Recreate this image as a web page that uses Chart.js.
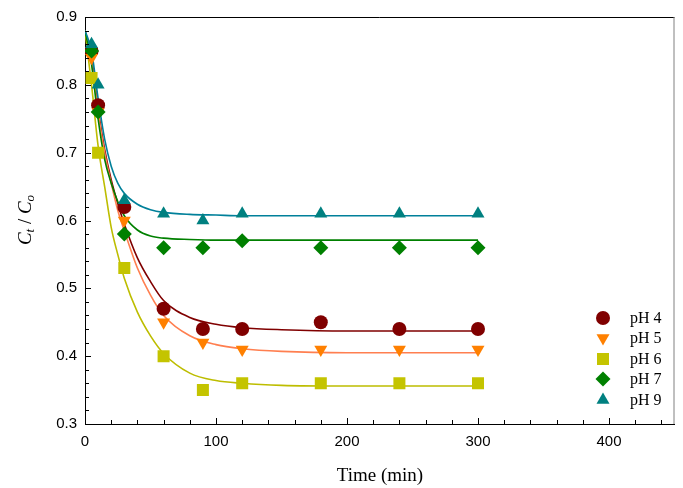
<!DOCTYPE html>
<html>
<head>
<meta charset="utf-8">
<script src="https://cdn.jsdelivr.net/npm/chart.js@4/dist/chart.umd.min.js"></script>
<style>
  html, body { margin: 0; padding: 0; background: #fff; }
  #wrap { width: 683px; height: 488px; }
</style>
</head>
<body>
<div id="wrap"><canvas id="chart" width="683" height="488"></canvas></div>
<script>
// measured points
const sampleTimes = [5, 10, 30, 60, 90, 120, 180, 240, 300];
const ph4 = [0.85, 0.77, 0.62, 0.47, 0.44, 0.44, 0.45, 0.44, 0.44];
const ph5 = [0.84, 0.76, 0.60, 0.45, 0.42, 0.41, 0.41, 0.41, 0.41];
const ph6 = [0.81, 0.70, 0.53, 0.40, 0.35, 0.36, 0.36, 0.36, 0.36];
const ph7 = [0.85, 0.76, 0.58, 0.56, 0.56, 0.57, 0.56, 0.56, 0.56];
const ph9 = [0.86, 0.80, 0.63, 0.61, 0.60, 0.61, 0.61, 0.61, 0.61];

// fitted curves
const fitTimes = [0, 5, 10, 15, 20, 25, 30, 40, 50, 60, 80, 100, 120, 150, 200, 250, 300];
const fit4 = [0.88, 0.84, 0.765, 0.705, 0.66, 0.625, 0.595, 0.545, 0.51, 0.482, 0.457, 0.447, 0.442, 0.439, 0.437, 0.437, 0.437];
const fit5 = [0.88, 0.835, 0.76, 0.70, 0.655, 0.615, 0.585, 0.53, 0.49, 0.46, 0.43, 0.417, 0.411, 0.407, 0.405, 0.405, 0.405];
const fit6 = [0.88, 0.80, 0.71, 0.65, 0.59, 0.55, 0.515, 0.465, 0.43, 0.404, 0.375, 0.364, 0.36, 0.357, 0.356, 0.356, 0.356];
const fit7 = [0.88, 0.83, 0.75, 0.69, 0.655, 0.628, 0.607, 0.586, 0.577, 0.574, 0.572, 0.571, 0.571, 0.571, 0.571, 0.571, 0.571];
const fit9 = [0.88, 0.85, 0.78, 0.72, 0.68, 0.655, 0.64, 0.624, 0.616, 0.612, 0.609, 0.608, 0.607, 0.607, 0.607, 0.607, 0.607];

const seriesNames = ["pH 4", "pH 5", "pH 6", "pH 7", "pH 9"];
const xTicks = [0, 100, 200, 300, 400];
const yTicks = [0.3, 0.4, 0.5, 0.6, 0.7, 0.8, 0.9];

const markerColors = ["#800000", "#ff8000", "#c4c400", "#008000", "#008080"];
const lineColors = ["#800000", "#ff7f50", "#bdbd00", "#008000", "#00809a"];
const markerStyles = [
  { pointStyle: "circle", radius: 7, rotation: 0 },
  { pointStyle: "triangle", radius: 7.5, rotation: 180 },
  { pointStyle: "rect", radius: 8.5, rotation: 0 },
  { pointStyle: "rectRot", radius: 7.5, rotation: 0 },
  { pointStyle: "triangle", radius: 7.5, rotation: 0 }
];

const measured = [ph4, ph5, ph6, ph7, ph9];
const fits = [fit4, fit5, fit6, fit7, fit9];

const toXY = (xs, ys) => xs.map((x, i) => ({ x: x, y: ys[i] }));

const datasets = [];
fits.forEach((f, i) => {
  datasets.push({
    label: seriesNames[i] + " fit",
    data: toXY(fitTimes, f),
    showLine: true,
    borderColor: lineColors[i],
    borderWidth: 1.6,
    pointRadius: 0,
    cubicInterpolationMode: "monotone",
    order: 20 - i
  });
});
measured.forEach((m, i) => {
  datasets.push({
    label: seriesNames[i],
    data: toXY(sampleTimes, m),
    showLine: false,
    backgroundColor: markerColors[i],
    borderColor: markerColors[i],
    borderWidth: 0,
    pointStyle: markerStyles[i].pointStyle,
    pointRadius: markerStyles[i].radius,
    pointRotation: markerStyles[i].rotation,
    order: 10 - i
  });
});

// inward ticks, frame, titles and legend
const decorations = {
  id: "decorations",
  afterDraw(chart) {
    const ctx = chart.ctx;
    const a = chart.chartArea;
    const xs = chart.scales.x;
    const ys = chart.scales.y;
    ctx.save();

    // frame
    ctx.lineWidth = 1;
    ctx.strokeStyle = "#000";
    ctx.beginPath();
    ctx.moveTo(a.left, a.top + 0.5);
    ctx.lineTo(a.right, a.top + 0.5);
    ctx.stroke();
    ctx.strokeStyle = "#808080";
    ctx.beginPath();
    ctx.moveTo(a.right - 0.5, a.top);
    ctx.lineTo(a.right - 0.5, a.bottom);
    ctx.stroke();

    // ticks
    ctx.strokeStyle = "#000";
    ctx.beginPath();
    for (let v = 0; v < 450; v += 20) {
      const px = Math.round(xs.getPixelForValue(v)) + 0.5;
      const len = v % 100 === 0 ? 6 : 4;
      ctx.moveTo(px, a.bottom);
      ctx.lineTo(px, a.bottom - len);
    }
    for (let k = 0; k <= 30; k++) {
      const v = 0.3 + k * 0.02;
      const py = Math.round(ys.getPixelForValue(v)) + 0.5;
      const len = k % 5 === 0 ? 6 : 4;
      ctx.moveTo(a.left, py);
      ctx.lineTo(a.left + len, py);
    }
    ctx.stroke();

    // x title
    ctx.fillStyle = "#000";
    ctx.font = "19px 'Liberation Serif', 'Times New Roman', serif";
    ctx.textAlign = "center";
    ctx.textBaseline = "middle";
    ctx.fillText("Time (min)", 380, 476);

    // y title C_t / C_o
    const big = "italic 19px 'Liberation Serif', serif";
    const small = "italic 13px 'Liberation Serif', serif";
    const parts = [
      { t: "C", f: big, d: 0 },
      { t: "t", f: small, d: 5 },
      { t: " / ", f: "19px 'Liberation Serif', serif", d: 0 },
      { t: "C", f: big, d: 0 },
      { t: "o", f: small, d: 5 }
    ];
    let total = 0;
    parts.forEach(p => { ctx.font = p.f; p.w = ctx.measureText(p.t).width; total += p.w; });
    ctx.translate(26, 220);
    ctx.rotate(-Math.PI / 2);
    ctx.textAlign = "left";
    ctx.textBaseline = "middle";
    let cx = -total / 2;
    parts.forEach(p => { ctx.font = p.f; ctx.fillText(p.t, cx, p.d); cx += p.w; });
    ctx.setTransform(1, 0, 0, 1, 0, 0);

    // legend
    const lx = 603, tx = 630;
    const rows = [318, 338, 359, 379, 400];
    ctx.font = "16px 'Liberation Serif', 'Times New Roman', serif";
    ctx.textAlign = "left";
    ctx.textBaseline = "middle";
    seriesNames.forEach((name, i) => {
      ctx.fillStyle = markerColors[i];
      ctx.strokeStyle = markerColors[i];
      ctx.lineWidth = 0;
      Chart.helpers.drawPoint(ctx, {
        pointStyle: markerStyles[i].pointStyle,
        radius: markerStyles[i].radius,
        rotation: markerStyles[i].rotation,
        borderWidth: 0
      }, lx, rows[i]);
      ctx.fillStyle = "#000";
      ctx.fillText(name, tx, rows[i] + 1);
    });
    ctx.restore();
  }
};

new Chart(document.getElementById("chart"), {
  type: "scatter",
  data: { datasets: datasets },
  options: {
    responsive: false,
    animation: false,
    layout: { padding: { left: 0, top: 14, right: 8, bottom: 0 } },
    plugins: { legend: { display: false }, tooltip: { enabled: false } },
    scales: {
      x: {
        type: "linear",
        min: 0,
        max: 450,
        afterBuildTicks: s => { s.ticks = xTicks.map(v => ({ value: v })); },
        afterFit: s => { s.height = 64; },
        grid: { display: false, drawTicks: false },
        border: { display: true, color: "#000", width: 1 },
        ticks: {
          padding: 9,
          color: "#000",
          font: { family: "Liberation Sans, Arial, sans-serif", size: 15 },
          callback: v => String(v)
        }
      },
      y: {
        type: "linear",
        min: 0.3,
        max: 0.9,
        afterBuildTicks: s => { s.ticks = yTicks.map(v => ({ value: v })); },
        afterFit: s => { s.width = 85; },
        grid: { display: false, drawTicks: false },
        border: { display: true, color: "#000", width: 1 },
        ticks: {
          padding: 8,
          color: "#000",
          font: { family: "Liberation Sans, Arial, sans-serif", size: 15 },
          callback: v => Number(v).toFixed(1)
        }
      }
    }
  },
  plugins: [decorations]
});
</script>
</body>
</html>
